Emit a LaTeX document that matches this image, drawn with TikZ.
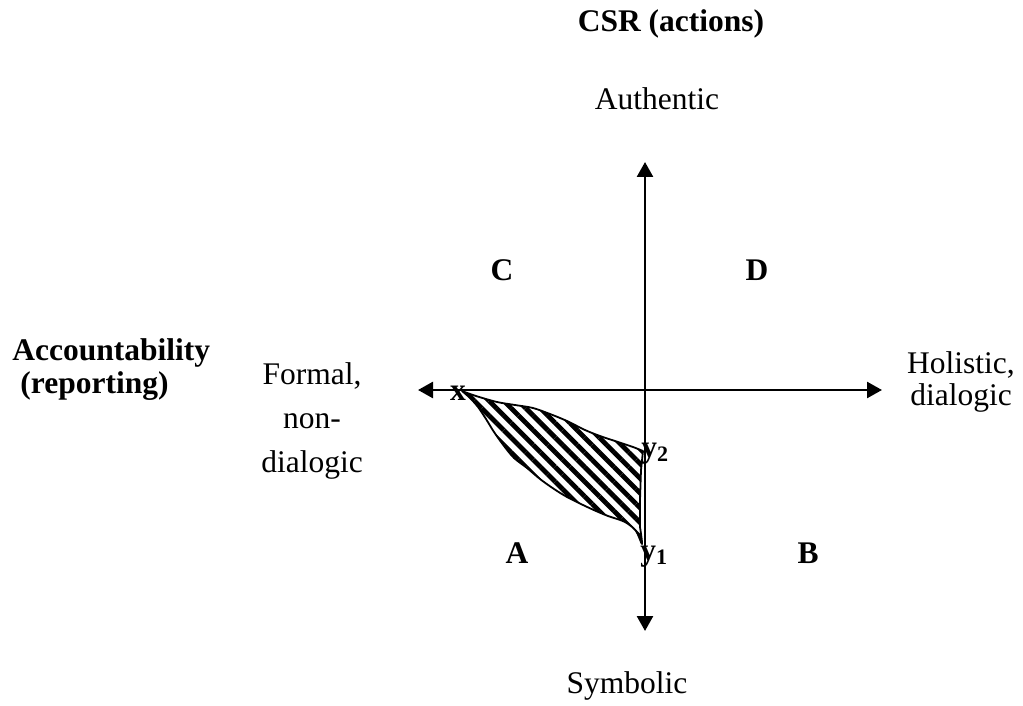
\documentclass[tikz,border=0pt]{standalone}
\usepackage{fontspec}
\setmainfont{Liberation Serif}
\usetikzlibrary{arrows.meta, patterns.meta}
\tikzset{
  axis/.style={{Triangle[length=7.5pt,width=8pt]}-{Triangle[length=7.5pt,width=8pt]},
    line width=1.3pt, black},
  lbl/.style={font=\fontsize{15.75}{19}\selectfont, inner sep=0pt, anchor=base},
  boldlbl/.style={lbl, font=\fontsize{15.75}{19}\selectfont\bfseries},
  hatched/.style={draw=black, line width=0.9pt, line join=round,
    pattern={Lines[angle=-45,distance=5.2pt,line width=2.4pt]}}
}

\begin{document}
\begin{tikzpicture}[x=0.5pt, y=-0.5pt]
  \useasboundingbox (0,0) rectangle (1023,706);

  % Shaded area between x, y2 and y1
  \draw[hatched] plot[smooth, tension=0.5] coordinates {
    (462,391) (476,396) (497,402) (515,405) (533,408) (550,414) (567,421)
    (585,430) (600,436) (618,442) (633,447) (643,451)}
    -- (641,470) -- (640,500)
    -- plot[smooth, tension=0.5] coordinates {
    (640,527) (642,544) (636,531) (625,522) (608,516) (596,511) (583,505)
    (567,497) (554,489) (540,479) (527,468) (514,458) (504,446)
    (494,432) (486,419) (478,407) (470,398) (462,391)} -- cycle;

  % Axes
  \coordinate (ntip) at (645,162);
  \coordinate (stip) at (645,631);
  \coordinate (wtip) at (418,390);
  \coordinate (etip) at (882,390);
  \draw[axis] (stip) -- (ntip);
  \draw[axis] (wtip) -- (etip);

  % Titles
  \node[boldlbl] (csr) at (671,32) {CSR (actions)};
  \node[boldlbl, anchor=base west] (acc) at (12,360) {Accountability};
  \node[boldlbl, anchor=base west] (rep) at (20,393) {(reporting)};

  % Ends of the axes
  \node[lbl] (auth) at (657,110) {Authentic};
  \node[lbl] (symb) at (627,693) {Symbolic};
  \node[lbl] (form) at (312,384) {Formal,};
  \node[lbl] (non) at (312,428) {non-};
  \node[lbl] (dialL) at (312,472) {dialogic};
  \node[lbl] (holi) at (961,373) {Holistic,};
  \node[lbl] (dialR) at (961,405) {dialogic};

  % Quadrants
  \node[boldlbl] (qc) at (502,280) {C};
  \node[boldlbl] (qd) at (757,280) {D};
  \node[boldlbl] (qa) at (517,563) {A};
  \node[boldlbl] (qb) at (808,563) {B};

  % Points
  \node[boldlbl] (xpt) at (458,400) {x};
  \node[boldlbl, anchor=base west] (ytwo) at (641,457) {y\textsubscript{2}};
  \node[boldlbl, anchor=base west] (yone) at (640,560) {y\textsubscript{1}};
\end{tikzpicture}
\end{document}
